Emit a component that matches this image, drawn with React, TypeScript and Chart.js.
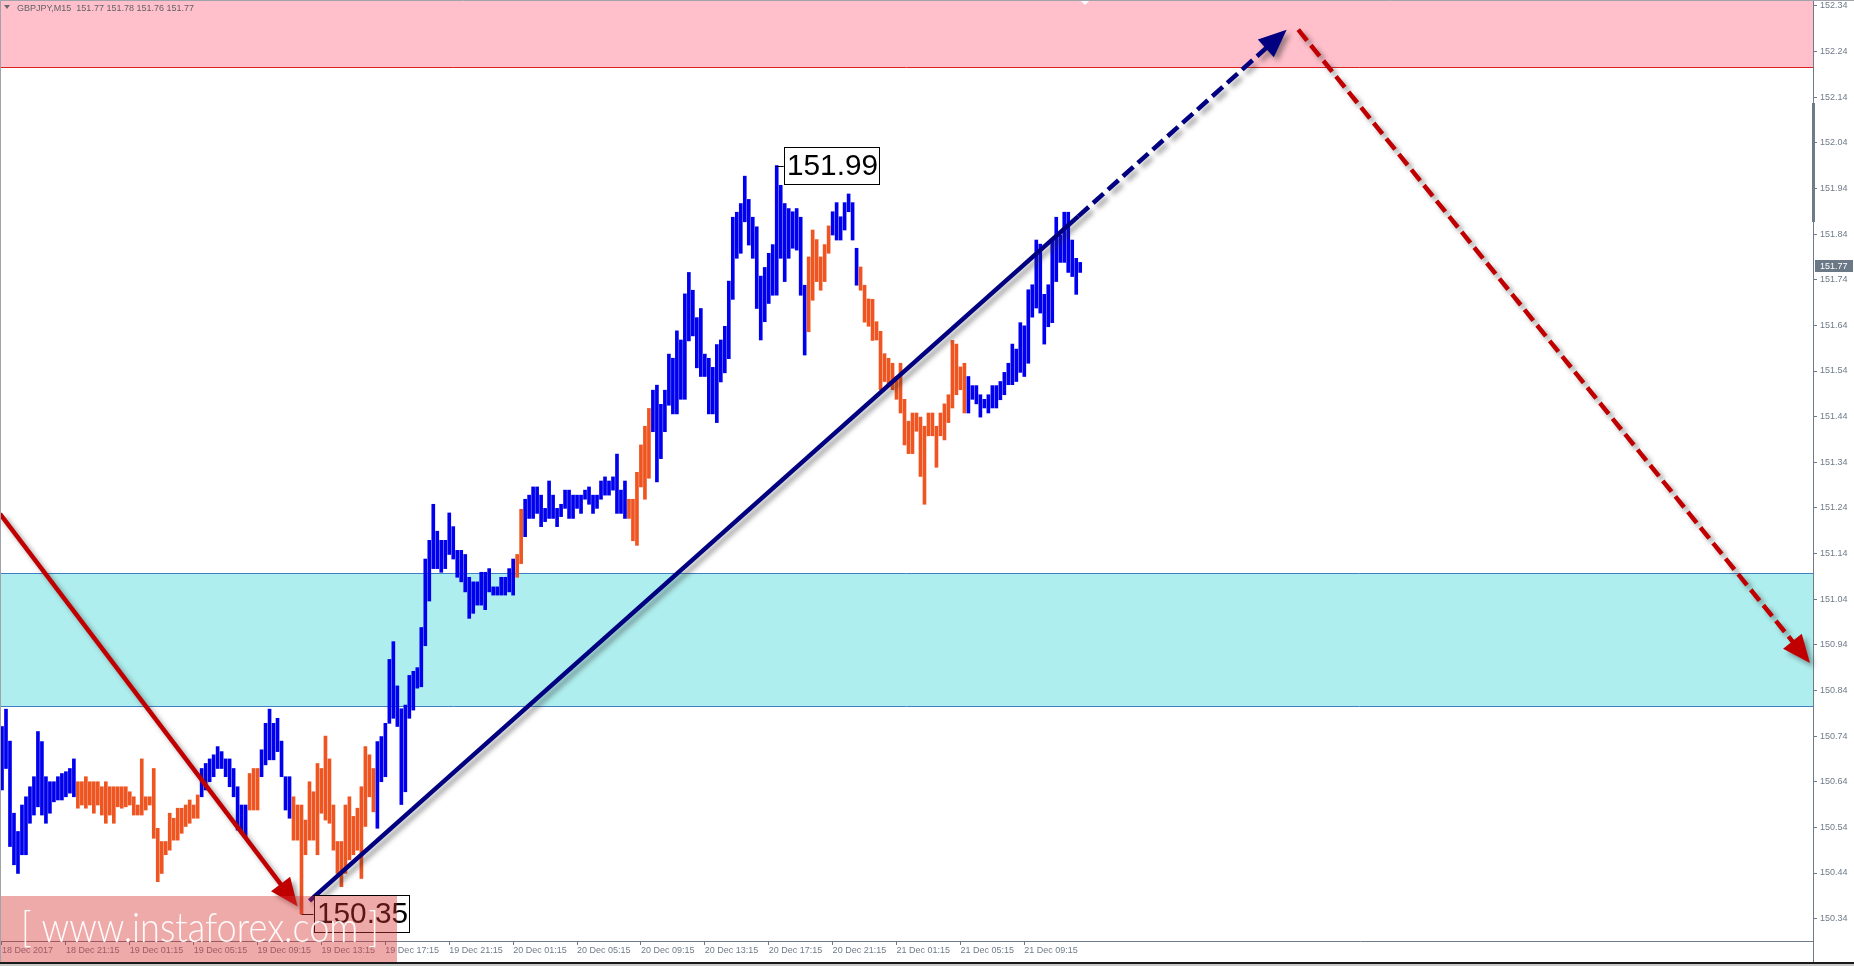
import React, { useEffect, useRef } from 'react';
import { Chart, registerables } from 'chart.js';

Chart.register(...registerables);

// ---------------- data ----------------
const symbolInfo = 'GBPJPY,M15  151.77 151.78 151.76 151.77';

// M15 bars from 18 Dec 17:15, high / low of each bar
const barHighs = [
  150.761, 150.799, 150.729, 150.571, 150.531, 150.589, 150.607, 150.629, 150.651, 150.750,
  150.728, 150.651, 150.640, 150.640, 150.651, 150.658, 150.662, 150.669, 150.690, 150.640,
  150.640, 150.651, 150.640, 150.640, 150.640, 150.629, 150.640, 150.629, 150.629, 150.629,
  150.629, 150.629, 150.618, 150.607, 150.589, 150.690, 150.607, 150.607, 150.669, 150.538,
  150.509, 150.509, 150.571, 150.560, 150.582, 150.582, 150.589, 150.600, 150.589, 150.611,
  150.669, 150.680, 150.690, 150.699, 150.717, 150.706, 150.690, 150.690, 150.669, 150.629,
  150.589, 150.589, 150.658, 150.669, 150.669, 150.710, 150.768, 150.799, 150.768, 150.779,
  150.729, 150.651, 150.651, 150.607, 150.589, 150.589, 150.556, 150.640, 150.618, 150.680,
  150.669, 150.740, 150.690, 150.589, 150.509, 150.509, 150.589, 150.607, 150.564, 150.582,
  150.629, 150.717, 150.699, 150.669, 150.728, 150.739, 150.768, 150.908, 150.947, 150.850,
  150.800, 150.808, 150.873, 150.882, 150.890, 150.978, 151.128, 151.169, 151.248, 151.189,
  151.169, 151.169, 151.229, 151.199, 151.147, 151.147, 151.138, 151.088, 151.078, 151.078,
  151.099, 151.099, 151.107, 151.067, 151.067, 151.088, 151.088, 151.107, 151.128, 151.138,
  151.237, 151.259, 151.268, 151.286, 151.286, 151.268, 151.239, 151.299, 151.268, 151.239,
  151.248, 151.279, 151.279, 151.268, 151.268, 151.268, 151.279, 151.286, 151.268, 151.268,
  151.299, 151.308, 151.299, 151.308, 151.358, 151.279, 151.299, 151.259, 151.259, 151.318,
  151.378, 151.419, 151.458, 151.498, 151.509, 151.467, 151.498, 151.577, 151.568, 151.628,
  151.608, 151.709, 151.756, 151.717, 151.657, 151.677, 151.577, 151.568, 151.548, 151.598,
  151.608, 151.638, 151.737, 151.877, 151.888, 151.907, 151.967, 151.916, 151.877, 151.856,
  151.748, 151.767, 151.798, 151.817, 151.990, 151.947, 151.907, 151.896, 151.889, 151.896,
  151.877, 151.728, 151.790, 151.849, 151.828, 151.790, 151.817, 151.858, 151.889, 151.909,
  151.878, 151.909, 151.928, 151.909, 151.809, 151.768, 151.728, 151.698, 151.697, 151.648,
  151.627, 151.578, 151.568, 151.557, 151.528, 151.557, 151.478, 151.430, 151.448, 151.448,
  151.439, 151.419, 151.448, 151.448, 151.419, 151.448, 151.468, 151.488, 151.607, 151.599,
  151.549, 151.557, 151.528, 151.508, 151.508, 151.488, 151.478, 151.488, 151.508, 151.508,
  151.517, 151.537, 151.557, 151.599, 151.588, 151.646, 151.639, 151.718, 151.729, 151.827,
  151.818, 151.708, 151.729, 151.827, 151.877, 151.838, 151.888, 151.888, 151.827, 151.787,
  151.778,
];

const barLows = [
  150.622, 150.669, 150.498, 150.458, 150.439, 150.480, 150.480, 150.549, 150.567, 150.585,
  150.567, 150.549, 150.571, 150.596, 150.600, 150.600, 150.607, 150.615, 150.607, 150.582,
  150.589, 150.582, 150.589, 150.571, 150.589, 150.567, 150.549, 150.567, 150.549, 150.585,
  150.582, 150.585, 150.589, 150.567, 150.567, 150.567, 150.578, 150.589, 150.516, 150.421,
  150.439, 150.480, 150.490, 150.512, 150.512, 150.527, 150.542, 150.549, 150.560, 150.560,
  150.607, 150.622, 150.640, 150.651, 150.669, 150.669, 150.651, 150.629, 150.607, 150.534,
  150.527, 150.520, 150.578, 150.578, 150.578, 150.651, 150.677, 150.688, 150.688, 150.706,
  150.651, 150.578, 150.560, 150.512, 150.512, 150.350, 150.480, 150.512, 150.512, 150.480,
  150.571, 150.556, 150.549, 150.490, 150.439, 150.410, 150.439, 150.469, 150.480, 150.490,
  150.428, 150.542, 150.607, 150.574, 150.538, 150.640, 150.651, 150.768, 150.779, 150.761,
  150.590, 150.618, 150.779, 150.797, 150.845, 150.848, 150.938, 151.036, 151.107, 151.107,
  151.099, 151.107, 151.138, 151.128, 151.088, 151.078, 151.056, 150.998, 151.009, 151.027,
  151.027, 151.017, 151.056, 151.049, 151.049, 151.049, 151.049, 151.056, 151.049, 151.088,
  151.118, 151.177, 151.217, 151.217, 151.228, 151.199, 151.210, 151.217, 151.217, 151.199,
  151.221, 151.239, 151.217, 151.217, 151.239, 151.228, 151.259, 151.248, 151.228, 151.239,
  151.259, 151.268, 151.268, 151.279, 151.228, 151.228, 151.217, 151.217, 151.168, 151.158,
  151.286, 151.259, 151.305, 151.407, 151.297, 151.348, 151.407, 151.465, 151.446, 151.446,
  151.478, 151.478, 151.606, 151.617, 151.547, 151.528, 151.528, 151.446, 151.446, 151.427,
  151.516, 151.536, 151.567, 151.697, 151.787, 151.798, 151.867, 151.816, 151.787, 151.677,
  151.608, 151.648, 151.688, 151.706, 151.706, 151.787, 151.736, 151.787, 151.809, 151.805,
  151.706, 151.575, 151.626, 151.695, 151.736, 151.717, 151.736, 151.798, 151.838, 151.827,
  151.827, 151.849, 151.889, 151.827, 151.728, 151.717, 151.647, 151.638, 151.607, 151.608,
  151.499, 151.517, 151.508, 151.499, 151.478, 151.448, 151.378, 151.359, 151.359, 151.408,
  151.309, 151.248, 151.398, 151.398, 151.329, 151.398, 151.389, 151.427, 151.459, 151.488,
  151.499, 151.448, 151.448, 151.478, 151.468, 151.439, 151.459, 151.448, 151.459, 151.459,
  151.477, 151.488, 151.510, 151.510, 151.517, 151.537, 151.528, 151.557, 151.658, 151.678,
  151.667, 151.599, 151.637, 151.646, 151.736, 151.778, 151.778, 151.756, 151.747, 151.708,
  151.756,
];

// 1 = rising-wave bar (blue), 0 = falling-wave bar (orange)
const barTrend = [
  1, 1, 1, 1, 1, 1, 1, 1, 1, 1, 1, 1, 1, 1, 1, 1, 1, 1, 1,
  0, 0, 0, 0, 0, 0, 0, 0, 0, 0, 0, 0, 0, 0, 0, 0, 0, 0, 0, 0, 0, 0, 0, 0, 0, 0, 0, 0, 0, 0, 0,
  1, 1, 1, 1, 1, 1, 1, 1, 1, 1, 1, 1,
  0, 0, 0,
  1, 1, 1, 1, 1, 1, 1, 1,
  0, 0, 0, 0, 0, 0, 0, 0, 0, 0, 0, 0, 0, 0, 0, 0, 0, 0, 0, 0, 0,
  1, 1, 1, 1, 1, 1, 1, 1, 1, 1, 1, 1, 1, 1, 1, 1, 1, 1, 1, 1, 1, 1, 1, 1, 1, 1, 1, 1, 1, 1, 1, 1, 1, 1, 1,
  0, 0,
  1, 1, 1, 1, 1, 1, 1, 1, 1, 1, 1, 1, 1, 1, 1, 1, 1, 1, 1, 1, 1, 1, 1, 1, 1, 1,
  0, 0, 0, 0, 0, 0,
  1, 1, 1, 1, 1, 1, 1, 1, 1, 1, 1, 1, 1, 1, 1, 1, 1, 1, 1, 1, 1, 1, 1, 1, 1, 1, 1, 1, 1, 1, 1, 1, 1, 1, 1, 1, 1, 1, 1,
  0, 0, 0, 0, 0, 0,
  1, 1, 1, 1, 1, 1, 1,
  0, 0, 0, 0, 0, 0, 0, 0, 0, 0, 0, 0, 0, 0, 0, 0, 0, 0, 0, 0, 0, 0, 0, 0, 0, 0, 0,
  1, 1, 1, 1, 1, 1, 1, 1, 1, 1, 1, 1, 1, 1, 1, 1, 1, 1, 1, 1, 1, 1, 1, 1, 1, 1, 1, 1, 1,
];

const slotCount = 454; // visible bar slots incl. empty right shift
const timeLabels = [
  '18 Dec 2017', '18 Dec 21:15', '19 Dec 01:15', '19 Dec 05:15', '19 Dec 09:15', '19 Dec 13:15',
  '19 Dec 17:15', '19 Dec 21:15', '20 Dec 01:15', '20 Dec 05:15', '20 Dec 09:15', '20 Dec 13:15',
  '20 Dec 17:15', '20 Dec 21:15', '21 Dec 01:15', '21 Dec 05:15', '21 Dec 09:15',
];
const barsPerTimeLabel = 16;

const priceTicks = [
  152.34, 152.24, 152.14, 152.04, 151.94, 151.84, 151.74, 151.64, 151.54, 151.44, 151.34,
  151.24, 151.14, 151.04, 150.94, 150.84, 150.74, 150.64, 150.54, 150.44, 150.34,
];
const priceMin = 150.291;
const priceMax = 152.353;
const lastPrice = 151.77;

const resistanceZone = [152.206, 152.4];
const supportZone = [150.807, 151.098];

// wave arrows: [bar index, price]
const fallArrow = [[-0.5, 151.227], [74, 150.367]];
const riseSolid = [[77, 150.379], [269.5, 151.879]];
const riseForecast = [[269.5, 151.879], [321.7, 152.288]];
const fallForecast = [[324.6, 152.288], [452.75, 150.9]];

// extreme price labels: bar index
const highLabelBar = 194;
const lowLabelBar = 75;

// ---------------- styles ----------------
const BLUE = '#0000ee';
const ORANGE = '#ee5520';
const AXIS = '#6f7b89';
const FONT = "'Liberation Sans', Arial, sans-serif";

function drawArrow(ctx: CanvasRenderingContext2D, x1: number, y1: number, x2: number, y2: number,
  color: string, dash: number[], head: boolean) {
  const ang = Math.atan2(y2 - y1, x2 - x1);
  const c = Math.cos(ang), s = Math.sin(ang);
  const HL = 28, HW = 12;
  const ex = head ? x2 - c * (HL - 3) : x2;
  const ey = head ? y2 - s * (HL - 3) : y2;
  ctx.save();
  ctx.shadowColor = 'rgba(40,40,40,0.45)';
  ctx.shadowBlur = 5;
  ctx.shadowOffsetX = 4;
  ctx.shadowOffsetY = 4;
  ctx.strokeStyle = color;
  ctx.lineWidth = 4.5;
  ctx.lineCap = 'butt';
  ctx.setLineDash(dash);
  ctx.beginPath();
  ctx.moveTo(x1, y1);
  ctx.lineTo(ex, ey);
  ctx.stroke();
  if (head) {
    ctx.setLineDash([]);
    ctx.fillStyle = color;
    const bx = x2 - c * HL, by = y2 - s * HL;
    ctx.beginPath();
    ctx.moveTo(x2, y2);
    ctx.lineTo(bx - s * HW, by + c * HW);
    ctx.lineTo(bx + s * HW, by - c * HW);
    ctx.closePath();
    ctx.fill();
  }
  ctx.restore();
}

const overlayPlugin = {
  id: 'mt4overlay',
  beforeDraw(chart: any) {
    const { ctx, chartArea: a, scales } = chart;
    const y = scales.y;
    ctx.save();
    ctx.fillStyle = '#ffffff';
    ctx.fillRect(0, 0, chart.width, chart.height);
    // resistance zone
    const rt = Math.max(a.top, y.getPixelForValue(resistanceZone[1]));
    const rb = Math.round(y.getPixelForValue(resistanceZone[0]));
    ctx.fillStyle = '#ffc0cb';
    ctx.fillRect(a.left, rt, a.right - a.left, rb - rt);
    ctx.strokeStyle = '#dd2222';
    ctx.lineWidth = 1;
    ctx.beginPath();
    ctx.moveTo(a.left, rb + 0.5);
    ctx.lineTo(a.right, rb + 0.5);
    ctx.stroke();
    // support zone
    const st = Math.round(y.getPixelForValue(supportZone[1]));
    const sb = Math.round(y.getPixelForValue(supportZone[0]));
    ctx.fillStyle = '#afeeee';
    ctx.fillRect(a.left, st, a.right - a.left, sb - st);
    ctx.strokeStyle = '#3f7fc4';
    ctx.beginPath();
    ctx.moveTo(a.left, st + 0.5);
    ctx.lineTo(a.right, st + 0.5);
    ctx.moveTo(a.left, sb + 0.5);
    ctx.lineTo(a.right, sb + 0.5);
    ctx.stroke();
    ctx.restore();
  },
  afterDraw(chart: any) {
    const { ctx, chartArea: a, scales } = chart;
    const x = scales.x, y = scales.y;
    const px = (p: number[]) => [x.getPixelForValue(p[0]), y.getPixelForValue(p[1])];
    ctx.save();

    // y axis extension down to the frame
    ctx.strokeStyle = AXIS;
    ctx.lineWidth = 1;
    ctx.beginPath();
    ctx.moveTo(a.right + 0.5, a.bottom);
    ctx.lineTo(a.right + 0.5, chart.height);
    ctx.stroke();

    // scroll marker on the price axis
    ctx.fillStyle = AXIS;
    ctx.fillRect(a.right - 1, 103, 3, 119);

    // current price box
    const yp = y.getPixelForValue(lastPrice);
    ctx.fillStyle = '#6b7886';
    ctx.fillRect(a.right + 2, Math.round(yp) - 6, 38, 12);
    ctx.fillStyle = '#ffffff';
    ctx.font = `9px ${FONT}`;
    ctx.textBaseline = 'middle';
    ctx.fillText(lastPrice.toFixed(2), a.right + 7, Math.round(yp) + 0.5);

    // arrows
    const f1 = px(fallArrow[0]), f2 = px(fallArrow[1]);
    drawArrow(ctx, f1[0], f1[1], f2[0], f2[1], '#c00000', [], true);
    const r1 = px(riseSolid[0]), r2 = px(riseSolid[1]);
    drawArrow(ctx, r1[0], r1[1], r2[0], r2[1], '#000080', [], false);
    const d1 = px(riseForecast[0]), d2 = px(riseForecast[1]);
    drawArrow(ctx, d1[0], d1[1], d2[0], d2[1], '#000080', [14, 6], true);
    const g1 = px(fallForecast[0]), g2 = px(fallForecast[1]);
    drawArrow(ctx, g1[0], g1[1], g2[0], g2[1], '#c00000', [14, 6], true);

    // extreme labels
    const drawLabel = (bar: number, price: number, gap: number) => {
      const bx = x.getPixelForValue(bar);
      const by = Math.round(y.getPixelForValue(price));
      ctx.strokeStyle = '#000';
      ctx.lineWidth = 1;
      ctx.beginPath();
      ctx.moveTo(bx, by + 0.5);
      ctx.lineTo(bx + gap, by + 0.5);
      ctx.stroke();
      const left = Math.round(bx + gap);
      ctx.fillStyle = '#ffffff';
      ctx.fillRect(left, by - 19, 96, 38);
      ctx.strokeRect(left + 0.5, by - 18.5, 95, 37);
      ctx.fillStyle = '#000';
      ctx.font = `30px ${FONT}`;
      ctx.textBaseline = 'middle';
      ctx.textAlign = 'left';
      ctx.fillText(price.toFixed(2), left + 3, by + 1, 91);
    };
    drawLabel(highLabelBar, barHighs[highLabelBar], 7);
    drawLabel(lowLabelBar, barLows[lowLabelBar], 12);

    // header
    ctx.fillStyle = '#666a70';
    ctx.beginPath();
    ctx.moveTo(4, 5);
    ctx.lineTo(10, 5);
    ctx.lineTo(7, 9);
    ctx.closePath();
    ctx.fill();
    ctx.fillStyle = '#5f6368';
    ctx.font = `9px ${FONT}`;
    ctx.textBaseline = 'alphabetic';
    ctx.fillText(symbolInfo, 17, 11);

    // shift marker
    ctx.fillStyle = '#ffffff';
    ctx.beginPath();
    ctx.moveTo(1080, 0);
    ctx.lineTo(1090, 0);
    ctx.lineTo(1085, 5);
    ctx.closePath();
    ctx.fill();

    // watermark
    ctx.fillStyle = 'rgba(215,50,50,0.42)';
    ctx.fillRect(0, 896, 397, chart.height - 896);
    ctx.fillStyle = 'rgba(255,255,255,0.95)';
    ctx.font = `300 42px Lato, ${FONT}`;
    ctx.textBaseline = 'alphabetic';
    ctx.fillText('[ www.instaforex.com ]', 21, 942, 358);

    // window frame
    ctx.strokeStyle = '#a0a4aa';
    ctx.lineWidth = 1;
    ctx.beginPath();
    ctx.moveTo(0.5, 0);
    ctx.lineTo(0.5, chart.height - 4);
    ctx.moveTo(0, 0.5);
    ctx.lineTo(chart.width, 0.5);
    ctx.stroke();
    ctx.fillStyle = '#1a1a1a';
    ctx.fillRect(0, chart.height - 4, chart.width, 2);
    ctx.fillStyle = '#c8c8c8';
    ctx.fillRect(0, chart.height - 2, chart.width, 2);
    ctx.restore();
  },
};

export default function App() {
  const ref = useRef<HTMLCanvasElement>(null);
  useEffect(() => {
    const slots = Array.from({ length: slotCount }, (_, i) => String(i));
    const chart = new Chart(ref.current as HTMLCanvasElement, {
      type: 'bar',
      data: {
        labels: slots,
        datasets: [
          {
            data: barHighs.map((h, i) => [barLows[i], h]) as any,
            backgroundColor: barTrend.map((t) => (t ? BLUE : ORANGE)),
            borderWidth: 0,
            barThickness: 3,
          },
        ],
      },
      options: {
        animation: false,
        responsive: false,
        devicePixelRatio: 1,
        events: [],
        layout: { padding: 0 },
        plugins: { legend: { display: false }, tooltip: { enabled: false } },
        scales: {
          x: {
            type: 'category',
            offset: true,
            afterFit: (s: any) => {
              s.height = 25;
              s.paddingLeft = 0;
              s.paddingRight = 0;
            },
            grid: {
              offset: false,
              drawOnChartArea: false,
              drawTicks: true,
              tickLength: 4,
              tickColor: (c: any) =>
                c.index % barsPerTimeLabel === 0 && c.index / barsPerTimeLabel < timeLabels.length
                  ? AXIS : 'rgba(0,0,0,0)',
            },
            border: { display: true, color: AXIS, width: 1 },
            ticks: {
              autoSkip: false,
              maxRotation: 0,
              minRotation: 0,
              align: 'start',
              padding: 0,
              color: AXIS,
              font: { family: FONT, size: 9 },
              callback: (_v: any, i: number) =>
                i % barsPerTimeLabel === 0 ? (timeLabels[i / barsPerTimeLabel] ?? '') : '',
            },
          },
          y: {
            type: 'linear',
            position: 'right',
            min: priceMin,
            max: priceMax,
            afterFit: (s: any) => {
              s.width = 41;
              s.paddingTop = 0;
              s.paddingBottom = 0;
            },
            afterBuildTicks: (s: any) => { s.ticks = priceTicks.map((v) => ({ value: v })); },
            grid: { drawOnChartArea: false, drawTicks: true, tickLength: 4, tickColor: AXIS },
            border: { display: true, color: AXIS, width: 1 },
            ticks: {
              padding: 3,
              color: AXIS,
              font: { family: FONT, size: 9 },
              callback: (v: any) => Number(v).toFixed(2),
            },
          },
        },
      } as any,
      plugins: [overlayPlugin],
    });
    return () => chart.destroy();
  }, []);
  return (
    <div style={{ position: 'fixed', left: 0, top: 0, width: 1854, height: 966, background: '#fff' }}>
      <canvas ref={ref} width={1854} height={966} style={{ display: 'block', width: 1854, height: 966 }} />
    </div>
  );
}
